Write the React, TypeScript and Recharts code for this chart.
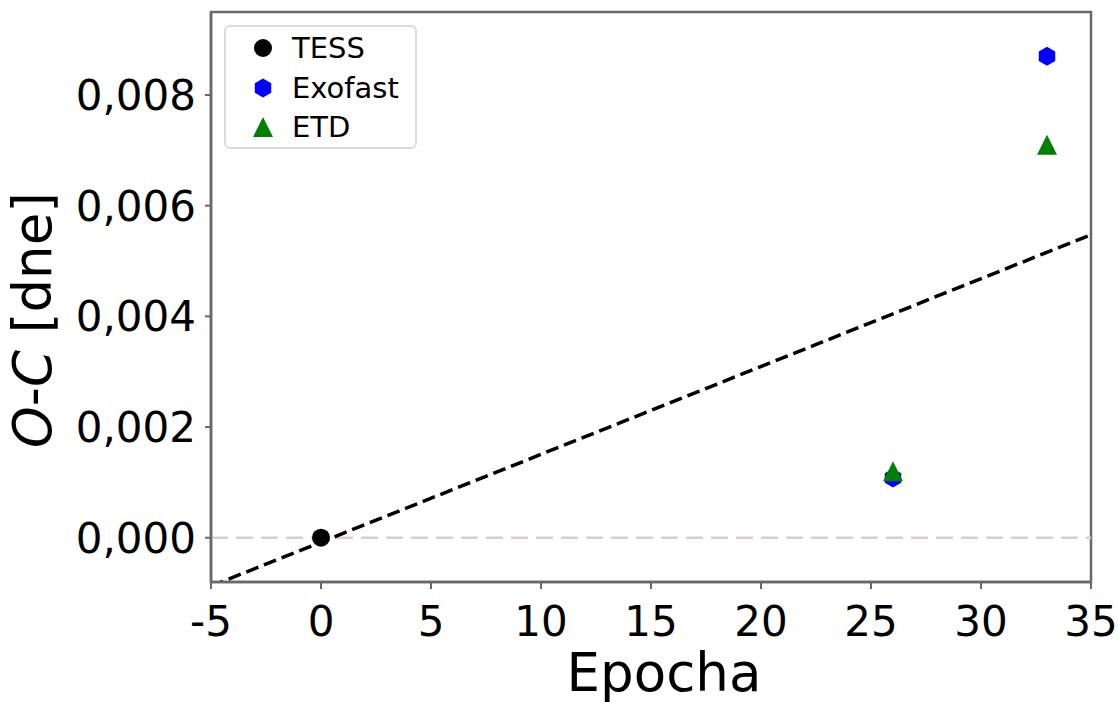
import React from 'react'
import {
  ScatterChart,
  Scatter,
  XAxis,
  YAxis,
  ReferenceLine,
  ReferenceArea,
} from 'recharts'

const FONT = '"DejaVu Sans", sans-serif'
const AXIS_COLOR = '#686868'

// observed minus computed timings per epoch
const tessPoints = [{ epoch: 0, oc: 0.0 }]
const exofastPoints = [
  { epoch: 26, oc: 0.00108 },
  { epoch: 33, oc: 0.0087 },
]
const etdPoints = [
  { epoch: 26, oc: 0.0012 },
  { epoch: 33, oc: 0.0071 },
]

// linear ephemeris fit, end points at the x limits
const fitLine = [
  { epoch: -5, oc: -0.000874 },
  { epoch: 35, oc: 0.005475 },
]

const xTicks = [-5, 0, 5, 10, 15, 20, 25, 30, 35]
const yTicks = [0, 0.002, 0.004, 0.006, 0.008]
const xDomain = [-5, 35]
const yDomain = [-0.0008, 0.0095]

const legendItems = [
  { name: 'TESS', marker: 'circle', color: '#000000' },
  { name: 'Exofast', marker: 'hexagon', color: '#0000ff' },
  { name: 'ETD', marker: 'triangle', color: '#008000' },
]

function Marker({ kind, cx, cy, color }: { kind: string; cx: number; cy: number; color: string }) {
  if (kind === 'circle') return <circle cx={cx} cy={cy} r={9} fill={color} />
  if (kind === 'hexagon') {
    const r = 9.5
    const pts = [0, 1, 2, 3, 4, 5]
      .map((i) => {
        const a = -Math.PI / 2 + (i * Math.PI) / 3
        return `${cx + r * Math.cos(a)},${cy + r * Math.sin(a)}`
      })
      .join(' ')
    return <polygon points={pts} fill={color} />
  }
  const h = 10
  return <polygon points={`${cx},${cy - h} ${cx - h},${cy + h} ${cx + h},${cy + h}`} fill={color} />
}

const shapeFor = (kind: string, color: string) => (props: any) =>
  <Marker kind={kind} cx={props.cx} cy={props.cy} color={color} />

const fmtY = (v: number) => v.toFixed(3).replace('.', ',')

function LegendBox() {
  return (
    <div
      style={{
        position: 'absolute',
        left: 224,
        top: 25,
        width: 189,
        height: 120,
        border: '2px solid #dcdcdc',
        borderRadius: 6,
        background: 'rgba(255,255,255,0.85)',
        fontFamily: FONT,
        fontSize: 29,
        color: '#000',
      }}
    >
      {legendItems.map((it, i) => (
        <div key={it.name} style={{ position: 'absolute', left: 0, top: 1 + i * 39.5, height: 40, display: 'flex', alignItems: 'center' }}>
          <svg width={66} height={40} style={{ display: 'block' }}>
            <Marker kind={it.marker} cx={37} cy={20} color={it.color} />
          </svg>
          <span>{it.name}</span>
        </div>
      ))}
    </div>
  )
}

export default function App() {
  return (
    <div style={{ position: 'absolute', left: 0, top: 0, width: 1118, height: 702, background: '#fff', fontFamily: FONT }}>
      <ScatterChart width={1118} height={702} margin={{ top: 12, right: 27, bottom: 0, left: 0 }}>
        <XAxis
          type="number"
          dataKey="epoch"
          domain={xDomain}
          ticks={xTicks}
          interval={0}
          allowDataOverflow
          height={120}
          axisLine={{ stroke: AXIS_COLOR, strokeWidth: 2.5 }}
          tickLine={{ stroke: AXIS_COLOR, strokeWidth: 2 }}
          tickSize={7}
          tickMargin={17}
          tick={{ fill: '#000', fontSize: 42, fontFamily: FONT }}
          label={({ viewBox }: any) => (
            <text x={viewBox.x + viewBox.width / 2 + 13} y={691} textAnchor="middle" fontSize={53} fontFamily={FONT} fill="#000">
              Epocha
            </text>
          )}
        />
        <YAxis
          type="number"
          dataKey="oc"
          domain={yDomain}
          ticks={yTicks}
          interval={0}
          allowDataOverflow
          width={211}
          tickFormatter={fmtY}
          axisLine={{ stroke: AXIS_COLOR, strokeWidth: 2.5 }}
          tickLine={{ stroke: AXIS_COLOR, strokeWidth: 2 }}
          tickSize={6}
          tickMargin={9}
          tick={{ fill: '#000', fontSize: 42, fontFamily: FONT }}
          label={() => (
            <text x={51} y={320} transform="rotate(-90 51 320)" textAnchor="middle" fontSize={53} fontFamily={FONT} fill="#000">
              <tspan fontStyle="italic">O</tspan>
              <tspan>-</tspan>
              <tspan fontStyle="italic">C</tspan>
              <tspan> [dne]</tspan>
            </text>
          )}
        />
        <ReferenceArea
          x1={xDomain[0]}
          x2={xDomain[1]}
          y1={yDomain[0]}
          y2={yDomain[1]}
          fill="none"
          stroke={AXIS_COLOR}
          strokeWidth={2.5}
          ifOverflow="visible"
        />
        <ReferenceLine y={0} stroke="#d8cfcf" strokeWidth={2.5} strokeDasharray="17 8" />
        <ReferenceLine
          segment={[
            { x: fitLine[0].epoch, y: fitLine[0].oc },
            { x: fitLine[1].epoch, y: fitLine[1].oc },
          ]}
          stroke="#000"
          strokeWidth={3.5}
          strokeDasharray="13 6"
          ifOverflow="hidden"
        />
        <Scatter name="TESS" data={tessPoints} shape={shapeFor('circle', '#000000')} isAnimationActive={false} />
        <Scatter name="Exofast" data={exofastPoints} shape={shapeFor('hexagon', '#0000ff')} isAnimationActive={false} />
        <Scatter name="ETD" data={etdPoints} shape={shapeFor('triangle', '#008000')} isAnimationActive={false} />
      </ScatterChart>
      <LegendBox />
    </div>
  )
}
